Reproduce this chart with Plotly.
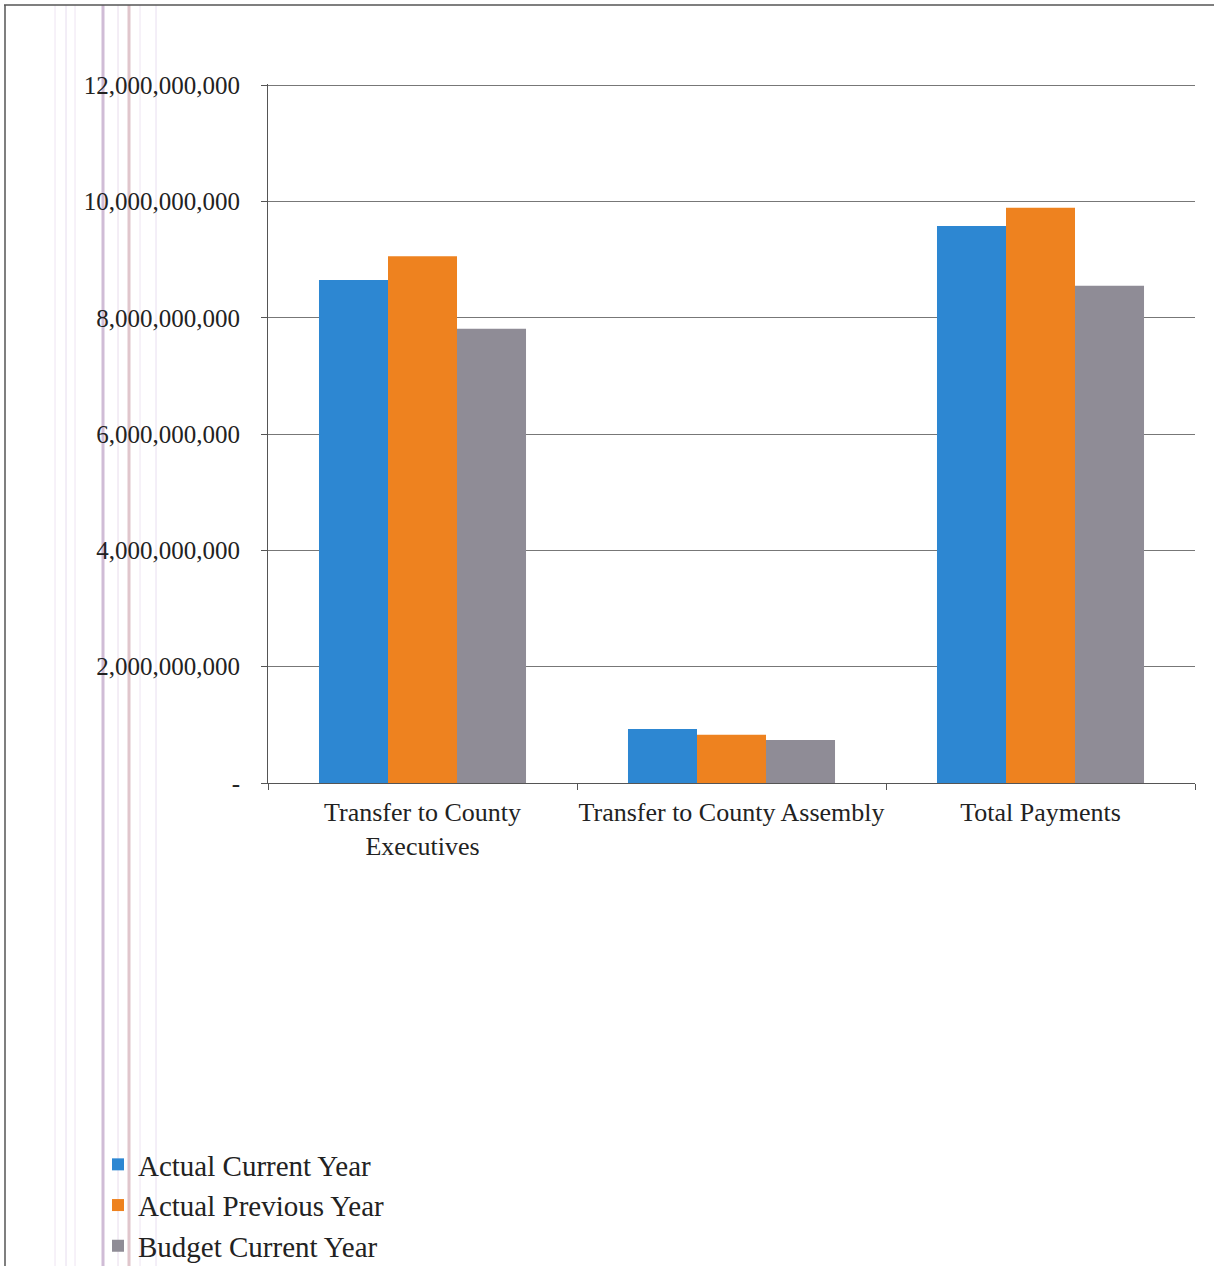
import plotly.graph_objects as go

categories = ["Transfer to County<br>Executives", "Transfer to County Assembly", "Total Payments"]
actual_current = [8.65e9, 0.93e9, 9.58e9]
actual_previous = [9.06e9, 0.83e9, 9.89e9]
budget_current = [7.81e9, 0.74e9, 8.55e9]

series = [
    ("Actual Current Year", actual_current, "#2D87D2"),
    ("Actual Previous Year", actual_previous, "#EE821F"),
    ("Budget Current Year", budget_current, "#8F8C96"),
]

tick_vals = [0, 2e9, 4e9, 6e9, 8e9, 10e9, 12e9]
tick_text = ["-", "2,000,000,000", "4,000,000,000", "6,000,000,000",
             "8,000,000,000", "10,000,000,000", "12,000,000,000"]

FONT = "Liberation Serif, Times New Roman, serif"

fig = go.Figure()
for name, vals, color in series:
    fig.add_trace(go.Bar(name=name, x=categories, y=vals, marker_color=color,
                         marker_line_width=0))

W, H = 1214, 1266
ml, mr, mt, mb = 268, 19, 84, 483
pw, ph = W - ml - mr, H - mt - mb
ybot = H - mb

def px(x):
    return (x - ml) / pw

def py(y):
    return (ybot - y) / ph

shapes = [
    dict(type="line", xref="paper", yref="paper", x0=px(4), x1=px(1214), y0=py(5), y1=py(5),
         line=dict(color="#555555", width=1.5)),
    dict(type="line", xref="paper", yref="paper", x0=px(5), x1=px(5), y0=py(5), y1=py(1270),
         line=dict(color="#555555", width=1.5)),
]
for xx, c, w in [(55, "#eee4f2", 1), (66, "#e6dcee", 1), (75, "#eee4f2", 1), (103, "#d0bcd6", 3),
                 (118, "#e8dcec", 1), (129, "#e0c6cc", 3), (140, "#eee4f2", 1), (156, "#e8def0", 1)]:
    shapes.append(dict(type="line", xref="paper", yref="paper", x0=px(xx), x1=px(xx),
                       y0=py(5), y1=py(1270), line=dict(color=c, width=w), layer="below"))

fig.update_layout(
    width=W, height=H,
    margin=dict(l=ml, r=mr, t=mt, b=mb, autoexpand=False),
    paper_bgcolor="white", plot_bgcolor="white",
    barmode="group", bargap=0.33, bargroupgap=0,
    font=dict(family=FONT, size=24, color="#222222"),
    showlegend=True,
    legend=dict(x=px(98), y=py(1139), xanchor="left", yanchor="top",
                font=dict(family=FONT, size=29, color="#222222"),
                itemwidth=30, tracegroupgap=0, bgcolor="rgba(0,0,0,0)"),
    shapes=shapes,
    xaxis=dict(showline=True, linecolor="#555555", linewidth=1,
               ticks="outside", ticklen=6, tickcolor="#555555", tickson="boundaries",
               tickfont=dict(family=FONT, size=26, color="#222222"),
               tickangle=0, ticklabelstandoff=6,
               showgrid=False),
    yaxis=dict(range=[0, 12.02e9], tickvals=tick_vals, ticktext=tick_text,
               showline=True, linecolor="#555555", linewidth=1,
               ticks="outside", ticklen=6, tickcolor="#555555",
               ticklabelstandoff=16,
               showgrid=True, gridcolor="#777777", gridwidth=1,
               tickfont=dict(family=FONT, size=25, color="#222222"),
               zeroline=False),
)

fig.write_html("out.html")
